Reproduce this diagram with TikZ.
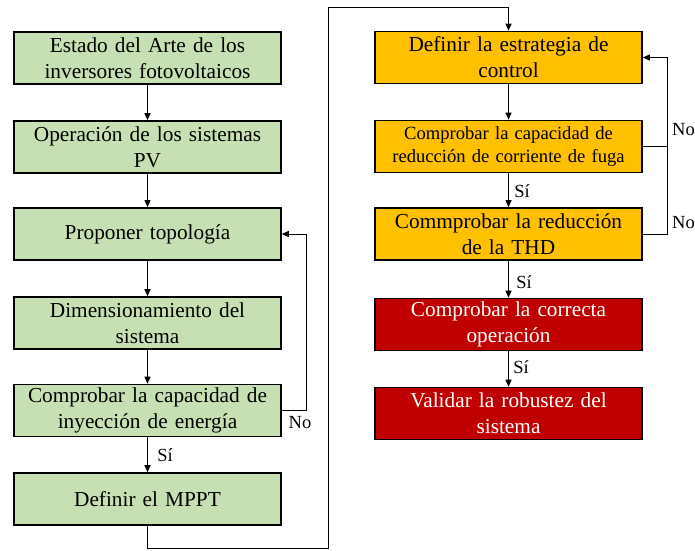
\documentclass[tikz,border=0pt]{standalone}
\usepackage{fontspec}
\setmainfont{Liberation Serif}
\usetikzlibrary{arrows.meta}
\definecolor{boxgreen}{HTML}{C6E0B4}
\definecolor{boxorange}{HTML}{FFC000}
\definecolor{boxred}{HTML}{C00000}
\tikzset{
  box/.style={draw=black, line width=1.6pt, minimum width=267pt, minimum height=52pt,
    inner sep=0pt, text width=264pt, align=center, font=\fontsize{21.3}{26}\selectfont},
  gbox/.style={box, fill=boxgreen},
  obox/.style={box, fill=boxorange},
  rbox/.style={box, fill=boxred, text=white},
  conn/.style={line width=0.9pt, -{Triangle[length=7pt,width=6pt]}},
  plain/.style={line width=0.9pt},
  lbl/.style={font=\fontsize{18.5}{21}\selectfont, inner sep=0pt}
}
\begin{document}
\begin{tikzpicture}[x=1pt,y=-1pt]
\useasboundingbox (0,0) rectangle (695,550);
% left column
\node[gbox] (b1) at (147.5,58) {Estado del Arte de los\\inversores fotovoltaicos};
\node[gbox] (b2) at (147.5,147) {Operación de los sistemas\\PV};
\node[gbox] (b3) at (147.5,234) {Proponer topología};
\node[gbox] (b4) at (147.5,323) {Dimensionamiento del\\sistema};
\node[gbox] (b5) at (147.5,410.5) {Comprobar la capacidad de\\inyección de energía};
\node[gbox] (b6) at (147.5,499) {Definir el MPPT};
% right column
\node[obox] (b7) at (508.5,57.5) {Definir la estrategia de\\control};
\node[obox, font=\fontsize{18.6}{23}\selectfont] (b8) at (508.5,146.5) {Comprobar la capacidad de\\reducción de corriente de fuga};
\node[obox] (b9) at (508.5,234) {Commprobar la reducción\\de la THD};
\node[rbox] (b10) at (508.5,324.5) {Comprobar la correcta\\operación};
\node[rbox] (b11) at (508.5,413.5) {Validar la robustez del\\sistema};
% connectors left
\draw[conn] (b1) -- (b2);
\draw[conn] (b2) -- (b3);
\draw[conn] (b3) -- (b4);
\draw[conn] (b4) -- (b5);
\draw[conn] (b5) -- (b6);
\draw[conn] (b5.east) -- ++(25,0) |- (b3.east);
% bridge
\coordinate (c1) at (328,548);
\coordinate (c2) at (328,7);
\draw[conn] (b6.south) |- (c1) -- (c2) -| (b7.north);
% connectors right
\draw[conn] (b7) -- (b8);
\draw[conn] (b8) -- (b9);
\draw[conn] (b9) -- (b10);
\draw[conn] (b10) -- (b11);
\draw[plain] (b8.east) -- ++(25,0);
\draw[conn] (b9.east) -- ++(25,0) |- (b7.east);
% labels
\node[lbl] (n1) at (300,423) {No};
\node[lbl, anchor=west] (n2) at (672,130) {No};
\node[lbl, anchor=west] (n3) at (672,223) {No};
\node[lbl] (s1) at (165,455) {Sí};
\node[lbl] (s2) at (522,191) {Sí};
\node[lbl] (s3) at (524,282) {Sí};
\node[lbl] (s4) at (521,367) {Sí};
\end{tikzpicture}
\end{document}
